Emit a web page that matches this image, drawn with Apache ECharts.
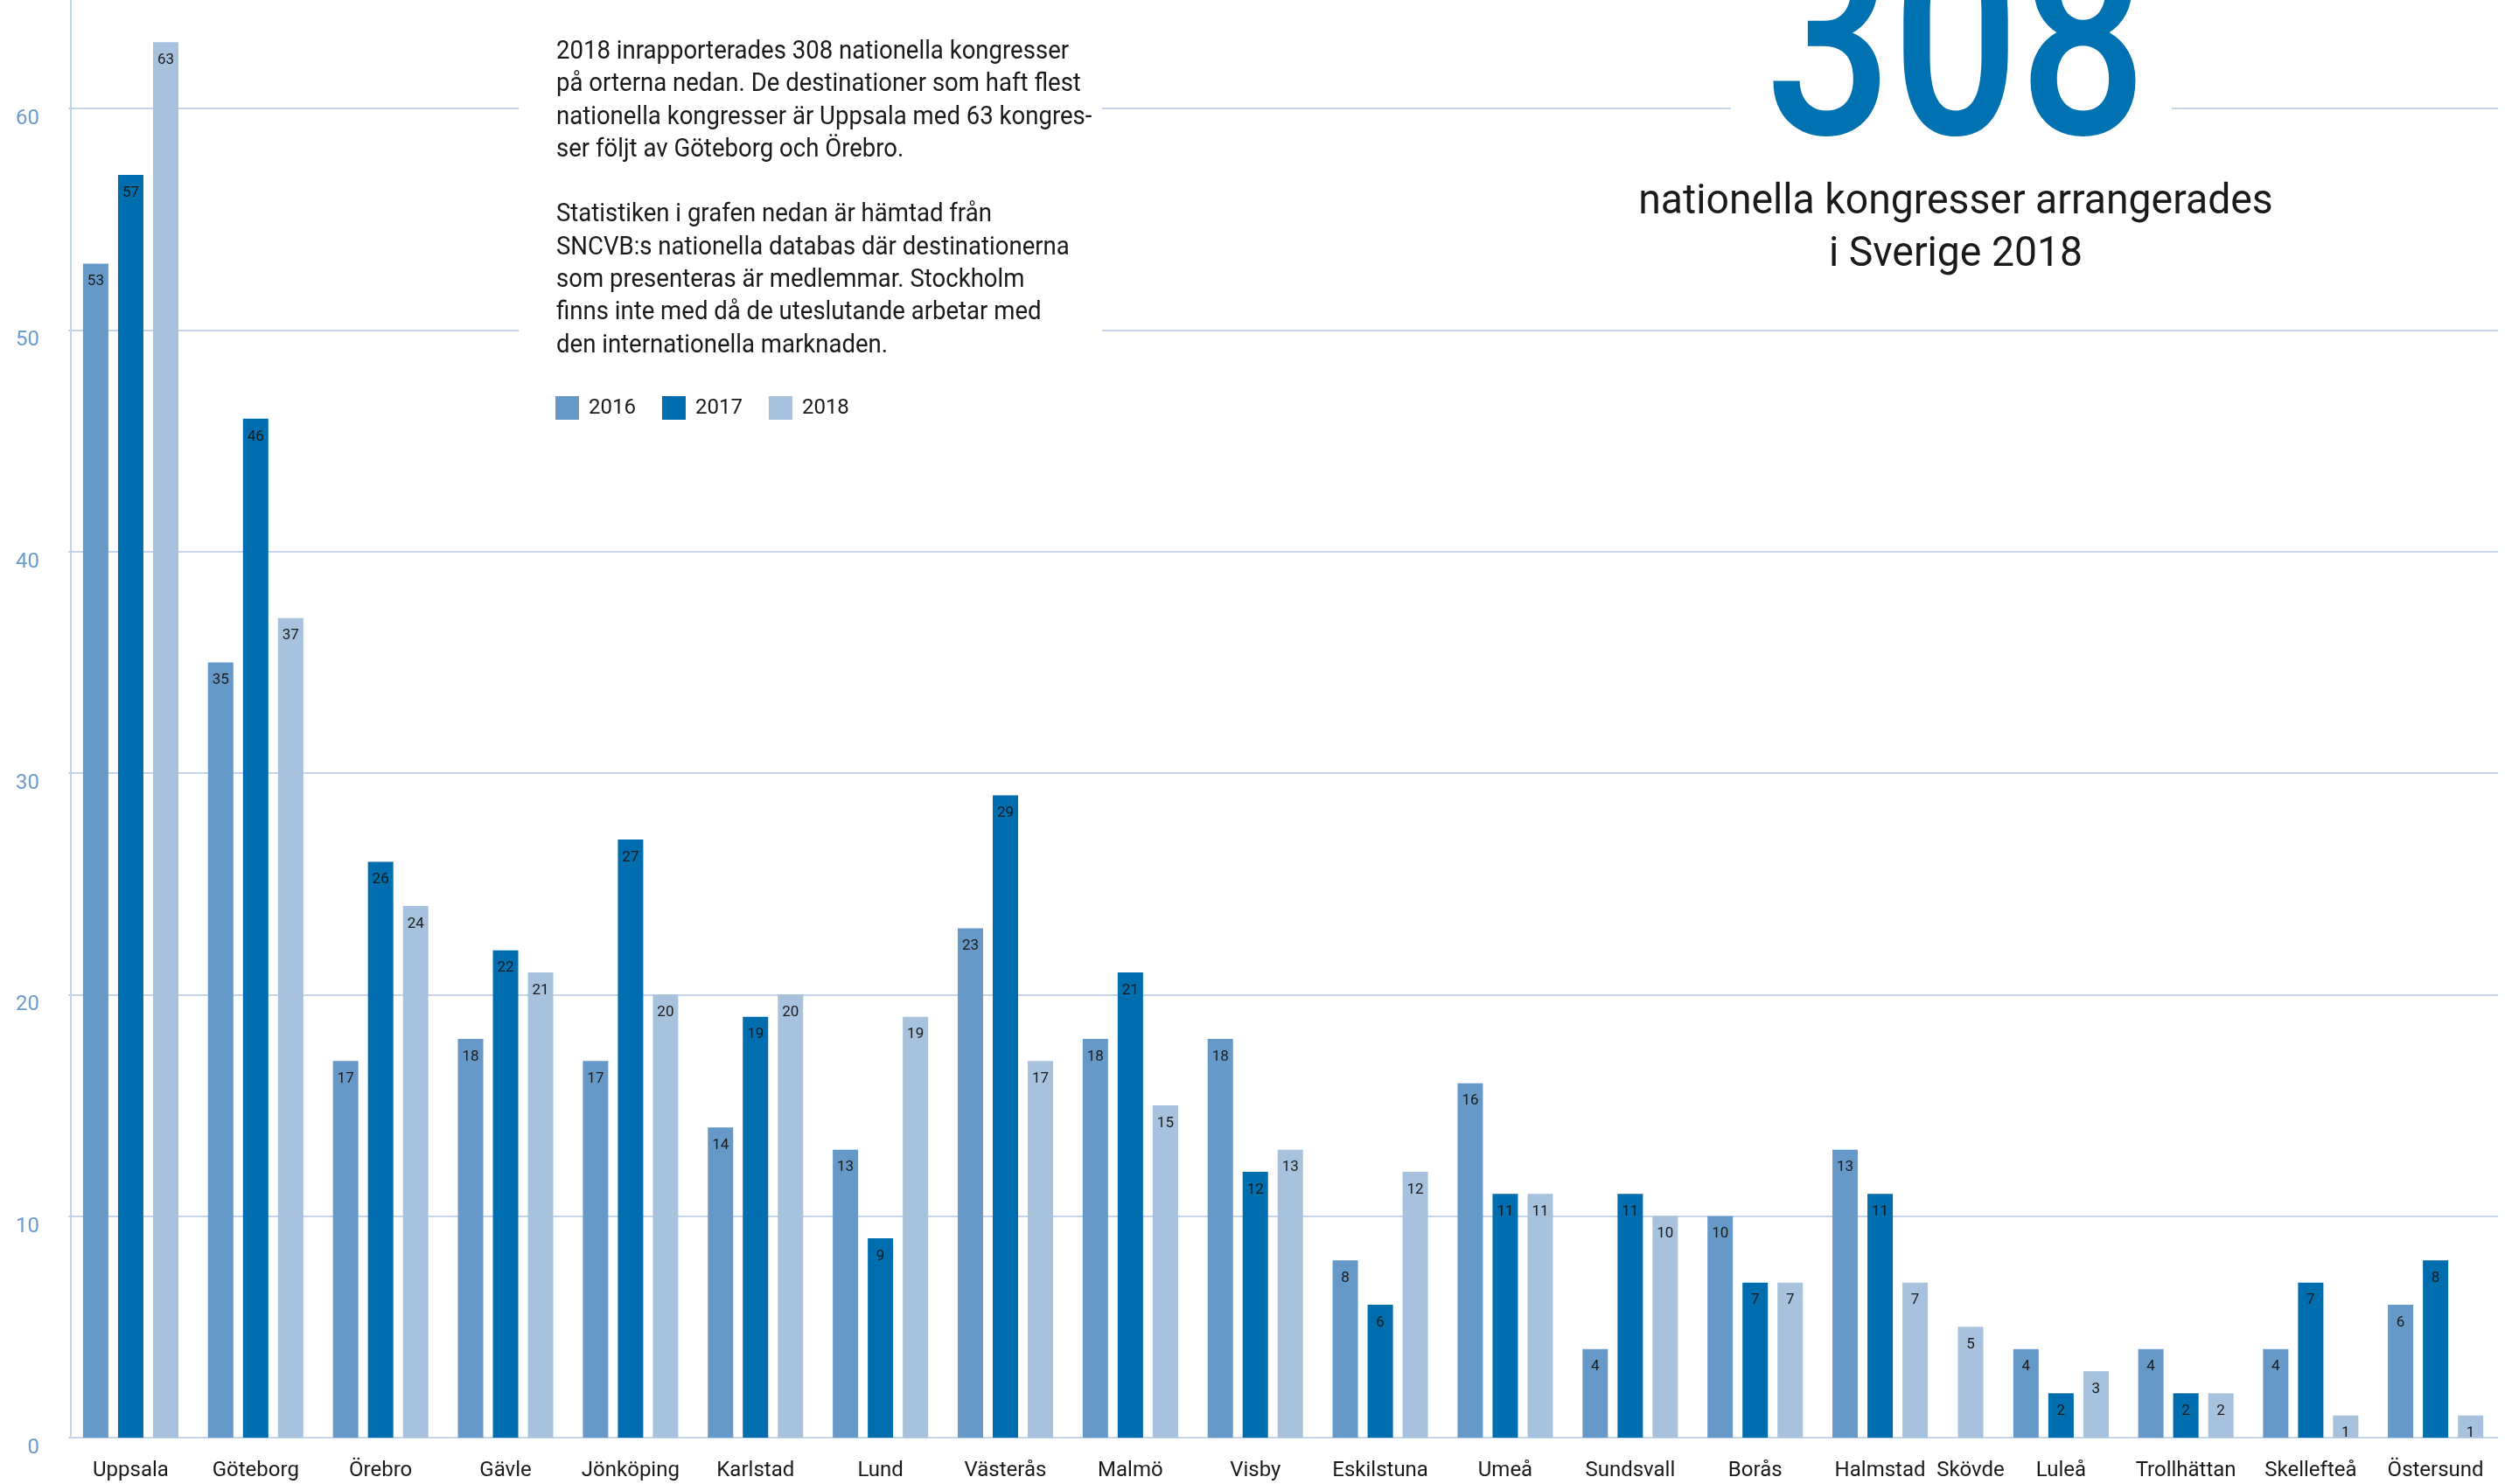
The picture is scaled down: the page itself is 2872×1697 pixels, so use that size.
<!DOCTYPE html>
<html>
<head>
<meta charset="utf-8">
<script src="https://cdn.jsdelivr.net/npm/echarts@6/dist/echarts.min.js"></script>
<style>
  html, body { margin: 0; padding: 0; background: #fff; }
  #chart { width: 2872px; height: 1697px; }
</style>
</head>
<body>
<div id="chart"></div>
<script>
const cities = ['Uppsala', 'Göteborg', 'Örebro', 'Gävle', 'Jönköping', 'Karlstad', 'Lund', 'Västerås', 'Malmö', 'Visby',
  'Eskilstuna', 'Umeå', 'Sundsvall', 'Borås', 'Halmstad', 'Skövde', 'Luleå', 'Trollhättan', 'Skellefteå', 'Östersund']
const v2016 = [53, 35, 17, 18, 17, 14, 13, 23, 18, 18, 8, 16, 4, 10, 13, null, 4, 4, 4, 6]
const v2017 = [57, 46, 26, 22, 27, 19, 9, 29, 21, 12, 6, 11, 11, 7, 11, null, 2, 2, 7, 8]
const v2018 = [63, 37, 24, 21, 20, 20, 19, 17, 15, 13, 12, 11, 10, 7, 7, 5, 3, 2, 1, 1]
const years = ['2016', '2017', '2018']
const yStep = 10
const yMax = 64.9   // axis runs a little past 60 up to the top edge

const TXT = '#1a1a1a'
const GRID_LINE = '#c5d4ea'
const FONT = 'Roboto, "Noto Sans", sans-serif'
const COLORS = { '2016': '#6699c8', '2017': '#006eae', '2018': '#a6c2dc' }
const valuesByYear = { '2016': v2016, '2017': v2017, '2018': v2018 }

// Skövde only has one bar, so it gets its own narrow slot
const segments = [
  { from: 0, to: 15, left: 78, width: 2143 },
  { from: 15, to: 16, left: 2221, width: 64 },
  { from: 16, to: 20, left: 2285, width: 571 },
]

const grids = segments.map(s => ({ left: s.left, width: s.width, top: 0, bottom: 53, outerBoundsMode: 'none' }))

const xAxes = segments.map((s, i) => ({
  type: 'category',
  gridIndex: i,
  data: cities.slice(s.from, s.to),
  axisLine: { show: false },
  axisTick: { show: false },
  axisLabel: { interval: 0, color: TXT, fontSize: 24, fontFamily: FONT, margin: 26 },
}))

const yAxes = segments.map((s, i) => ({
  type: 'value',
  gridIndex: i,
  min: 0,
  max: yMax,
  interval: yStep,
  offset: i === 0 ? -3 : 0,
  axisLine: { show: i === 0, lineStyle: { color: GRID_LINE, width: 2 } },
  axisTick: { show: false },
  axisLabel: {
    show: i === 0, color: '#6b9bcf', fontSize: 24, fontFamily: FONT,
    margin: 36, verticalAlign: 'top', showMaxLabel: false,
  },
  splitLine: { showMaxLine: false, lineStyle: { color: GRID_LINE, width: 2 } },
}))

const series = []
segments.forEach((s, i) => {
  years.forEach(y => {
    const part = valuesByYear[y].slice(s.from, s.to)
    if (part.every(v => v == null)) return
    series.push({
      name: y,
      type: 'bar',
      xAxisIndex: i,
      yAxisIndex: i,
      data: part,
      barWidth: 29,
      barGap: '38%',
      itemStyle: { color: COLORS[y] },
      label: {
        show: true,
        position: 'insideTop',
        distance: 12,
        color: TXT,
        fontSize: 17,
        fontFamily: FONT,
      },
    })
  })
})

const bodyText = [
  '2018 inrapporterades 308 nationella kongresser',
  'på orterna nedan. De destinationer som haft flest',
  'nationella kongresser är Uppsala med 63 kongres-',
  'ser följt av Göteborg och Örebro.',
  '',
  'Statistiken i grafen nedan är hämtad från',
  'SNCVB:s nationella databas där destinationerna',
  'som presenteras är medlemmar. Stockholm',
  'finns inte med då de uteslutande arbetar med',
  'den internationella marknaden.',
].join('\n')

const chart = echarts.init(document.getElementById('chart'))
chart.setOption({
  backgroundColor: '#fff',
  animation: false,
  grid: grids,
  xAxis: xAxes,
  yAxis: yAxes,
  legend: {
    data: years,
    left: 635,
    top: 453,
    padding: 0,
    icon: 'rect',
    itemWidth: 27,
    itemHeight: 27,
    itemGap: 30,
    textStyle: { color: TXT, fontSize: 24, fontFamily: FONT, padding: [0, 0, 0, 6] },
  },
  graphic: [
    // white panels that break the gridlines behind the texts
    { type: 'rect', z: 1, shape: { x: 593, y: 0, width: 667, height: 520 }, style: { fill: '#fff' } },
    { type: 'rect', z: 1, shape: { x: 1979, y: 0, width: 504, height: 200 }, style: { fill: '#fff' } },
    {
      type: 'text', z: 6, x: 636, y: 41, scaleX: 0.95,
      style: { text: bodyText, fill: TXT, fontSize: 29, lineHeight: 37.3, fontFamily: FONT, verticalAlign: 'top' },
    },
    {
      type: 'text', z: 6, x: 2236, y: 232, scaleX: 0.81,
      style: { text: '308', fill: '#0071b1', fontSize: 316, fontWeight: 500, fontFamily: FONT, align: 'center', verticalAlign: 'bottom' },
    },
    {
      type: 'text', z: 6, x: 2236, y: 202, scaleX: 0.965,
      style: {
        text: 'nationella kongresser arrangerades\ni Sverige 2018', fill: TXT, fontSize: 48, lineHeight: 60,
        fontFamily: FONT, align: 'center', verticalAlign: 'top',
      },
    },
  ],
  series,
})
</script>
</body>
</html>
